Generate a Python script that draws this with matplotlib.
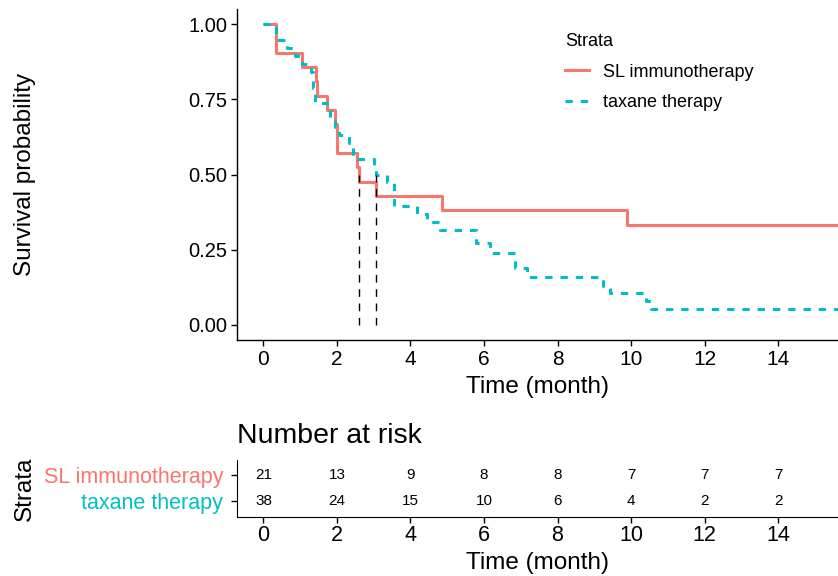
import matplotlib
matplotlib.use("Agg")
import matplotlib.pyplot as plt
import numpy as np
from matplotlib.lines import Line2D

plt.rcParams['font.family'] = ['Liberation Sans', 'DejaVu Sans']

# ---- data ----
strata = ["SL immunotherapy", "taxane therapy"]
colors = ["#F8766D", "#00BFC4"]

sl_time = [0, 0.35, 1.05, 1.43, 1.46, 1.73, 1.94, 2.0, 2.54, 2.6, 3.06, 4.85, 9.88, 16.0]
sl_surv = [1.0, 0.905, 0.857, 0.810, 0.762, 0.714, 0.667, 0.571, 0.524, 0.476, 0.429, 0.381, 0.333, 0.333]

tx_time = [0, 0.33, 0.64, 0.85, 1.05, 1.28, 1.36, 1.40, 1.73, 1.82, 1.94, 2.05, 2.32, 2.43,
           3.0, 3.07, 3.36, 3.54, 4.17, 4.45, 4.8, 5.78, 6.17, 6.85, 7.17, 9.25, 9.43,
           10.41, 10.55, 16.0]
tx_surv = [1.0, 0.947, 0.921, 0.895, 0.868, 0.842, 0.789, 0.737, 0.711, 0.684, 0.658, 0.632, 0.605, 0.553,
           0.526, 0.500, 0.474, 0.395, 0.368, 0.342, 0.316, 0.274, 0.240, 0.189, 0.158, 0.130, 0.105,
           0.079, 0.053, 0.053]

medians = [2.6, 3.07]

risk_times = [0, 2, 4, 6, 8, 10, 12, 14]
risk_sl = [21, 13, 9, 8, 8, 7, 7, 7]
risk_tx = [38, 24, 15, 10, 6, 4, 2, 2]

xticks = [0, 2, 4, 6, 8, 10, 12, 14]
yticks = [0.0, 0.25, 0.5, 0.75, 1.0]
ytick_labels = ["0.00", "0.25", "0.50", "0.75", "1.00"]

W, H = 838, 576
fig = plt.figure(figsize=(W / 100, H / 100), dpi=100)

def frac(l, t, r, b):
    return [l / W, 1 - b / H, (r - l) / W, (b - t) / H]

xlim = (-0.72, 15.63)
dash_style = (0, (2.4, 2.6))

# ---- main KM plot ----
ax = fig.add_axes(frac(237, 9.3, 838, 340))
ax.step(sl_time, sl_surv, where='post', color=colors[0], lw=2.2, solid_capstyle='butt')
ax.step(tx_time, tx_surv, where='post', color=colors[1], lw=2.2,
        linestyle=dash_style, dash_capstyle='butt')
for m in medians:
    ax.plot([m, m], [0, 0.5], color='black', lw=1.0, linestyle=(0, (5.5, 4.8)))

ax.set_xlim(*xlim)
ax.set_ylim(-0.05, 1.05)
ax.set_xticks(xticks)
ax.set_yticks(yticks)
ax.set_yticklabels(ytick_labels)
ax.tick_params(axis='y', labelsize=14.5, length=4, width=1, colors='black', pad=3)
ax.tick_params(axis='x', labelsize=15, length=4, width=1, colors='black', pad=3)
for s in ['top', 'right']:
    ax.spines[s].set_visible(False)
for s in ['left', 'bottom']:
    ax.spines[s].set_linewidth(1.0)
ax.set_xlabel("Time (month)", fontsize=17.5, labelpad=5)
ax.set_ylabel("Survival probability", fontsize=17.5)
ax.yaxis.set_label_coords((36 - 237) / 601, 0.5)

handles = [Line2D([], [], color=colors[0], lw=2.2),
           Line2D([], [], color=colors[1], lw=2.2, linestyle=dash_style, dash_capstyle='butt')]
leg = ax.legend(handles, strata, title="Strata", loc='upper left',
                bbox_to_anchor=(556 / W, 1 - 24 / H), bbox_transform=fig.transFigure,
                frameon=False, fontsize=13, title_fontsize=13, handlelength=1.35,
                handletextpad=0.75, labelspacing=0.75, borderpad=0, alignment='left')

# ---- risk table ----
at = fig.add_axes(frac(237, 460, 838, 516.7))
at.set_xlim(*xlim)
at.set_ylim(0.4, 2.6)
for t, n in zip(risk_times, risk_sl):
    at.text(t, 2, str(n), ha='center', va='center', fontsize=11)
for t, n in zip(risk_times, risk_tx):
    at.text(t, 1, str(n), ha='center', va='center', fontsize=11)
at.set_yticks([2, 1])
at.set_yticklabels(strata)
for lab, c in zip(at.get_yticklabels(), colors):
    lab.set_color(c)
at.set_xticks(xticks)
at.tick_params(axis='y', labelsize=15.5, length=4, width=1, pad=6)
at.tick_params(axis='x', labelsize=15.5, length=4, width=1, pad=2)
for s in ['top', 'right']:
    at.spines[s].set_visible(False)
at.set_xlabel("Time (month)", fontsize=17.5, labelpad=4)
at.set_ylabel("Strata", fontsize=17.5)
at.yaxis.set_label_coords((36 - 237) / 601, 0.5)
at.set_title("Number at risk", fontsize=20.5, loc='left', pad=12)

fig.savefig("out.png", dpi=100)
